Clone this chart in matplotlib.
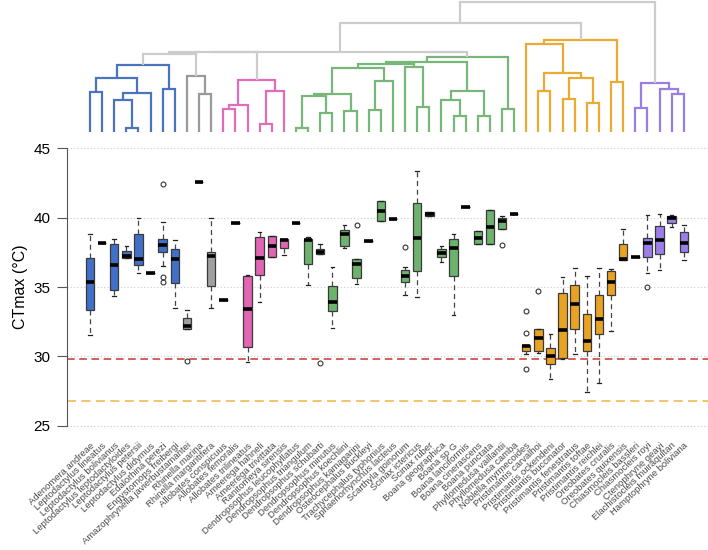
import numpy as np
import matplotlib.pyplot as plt

plt.rcParams['font.family'] = ['Liberation Sans', 'DejaVu Sans']

species = ['Adenomera andreae', 'Leptodactylus lineatus', 'Leptodactylus bolivianus',
           'Leptodactylus leptodactyloides', 'Leptodactylus petersii', 'Leptodactylus didymus',
           'Edalorhina perezi', 'Engystomops freibergi', 'Amazophrynella javierbustamantei',
           'Rhinella marina', 'Rhinella margaritifera', 'Allobates conspicuus',
           'Allobates femoralis', 'Allobates trilineatus', 'Ameerega hahneli',
           'Ameerega trivittata', 'Ranitomeya sirensis', 'Dendropsophus leucophyllatus',
           'Dendropsophus triangulum', 'Dendropsophus schubarti', 'Dendropsophus minutus',
           'Dendropsophus koechlini', 'Dendropsophus kamagarini', 'Osteocephalus buckleyi',
           'Trachycephalus typhonius', 'Sphaenorhynchus lacteus', 'Scarthyla goinorum',
           'Scinax ictericus', 'Scinax ruber', 'Boana geographica', 'Boana sp G',
           'Boana lanciformis', 'Boana cinerascens', 'Boana punctata',
           'Phyllomedusa vaillantii', 'Phyllomedusa camba', 'Noblella myrmecoides',
           'Pristimantis carvalhoi', 'Pristimantis ockendeni', 'Pristimantis buccinator',
           'Pristimantis fenestratus', 'Pristimantis toftae', 'Pristimantis reichlei',
           'Oreobates cruralis', 'Oreobates quixensis', 'Chiasmocleis bassleri',
           'Chiasmocleis royi', 'Ctenophryne geayi', 'Elachistocleis muiraquitan',
           'Hamptophryne boliviana']

med = [35.4, 38.2, 36.6, 37.25, 37.05, 36.0, 38.05, 37.0, 32.2, 42.6,
       37.25, 34.1, 39.6, 33.45, 37.1, 38.0, 38.4, 39.6, 38.4, 37.55,
       33.95, 38.8, 36.7, 38.35, 40.5, 39.9, 35.8, 38.55, 40.3, 37.45,
       37.8, 40.75, 38.55, 39.35, 39.75, 40.3, 30.75, 31.3, 30.0, 31.9,
       33.8, 31.1, 32.7, 35.35, 37.05, 37.2, 38.15, 38.4, 40.0, 38.15]
q1 = [33.35, 38.2, 34.8, 37.1, 36.6, 36.0, 37.5, 35.3, 32.0, 42.6,
      35.1, 34.1, 39.6, 30.7, 35.9, 37.2, 37.85, 39.6, 36.7, 37.4,
      33.25, 38.0, 35.65, 38.35, 39.75, 39.9, 35.4, 36.15, 40.15, 37.15,
      35.8, 40.75, 38.1, 38.1, 39.2, 40.3, 30.4, 30.4, 29.45, 29.9,
      32.0, 30.4, 31.6, 34.4, 36.95, 37.2, 37.2, 37.4, 39.65, 37.55]
q3 = [37.1, 38.2, 38.1, 37.6, 38.8, 36.0, 38.45, 37.75, 32.8, 42.6,
      37.5, 34.1, 39.6, 35.8, 38.6, 38.7, 38.45, 39.6, 38.45, 37.75,
      35.1, 39.1, 37.05, 38.35, 41.2, 39.9, 36.2, 41.1, 40.4, 37.75,
      38.5, 40.75, 39.05, 40.55, 39.95, 40.3, 30.85, 32.0, 30.6, 34.6,
      35.15, 33.05, 34.4, 36.15, 38.1, 37.2, 38.55, 39.4, 40.1, 38.95]
whislo = [31.55, 38.2, 34.35, 37.1, 36.0, 36.0, 36.5, 33.5, 32.0, 42.6,
          33.5, 34.1, 39.6, 29.6, 33.95, 37.2, 37.3, 39.6, 35.15, 37.4,
          32.05, 37.8, 35.2, 38.35, 39.75, 39.9, 34.4, 34.25, 40.15, 36.8,
          33.0, 40.75, 38.1, 38.1, 39.2, 40.3, 30.15, 30.25, 28.4, 29.8,
          30.15, 27.45, 28.1, 31.8, 36.95, 37.2, 36.05, 36.2, 39.35, 36.95]
whishi = [38.8, 38.2, 38.45, 38.0, 40.0, 36.0, 39.7, 38.4, 33.35, 42.6,
          40.0, 34.1, 39.6, 35.9, 39.0, 38.7, 38.45, 39.6, 38.6, 38.1,
          36.45, 39.5, 37.05, 38.35, 41.2, 39.9, 36.45, 43.4, 40.4, 38.0,
          38.85, 40.75, 39.05, 40.55, 40.1, 40.3, 30.85, 32.0, 31.6, 35.7,
          36.4, 35.8, 36.4, 36.3, 39.2, 37.2, 40.2, 40.3, 40.2, 39.5]
# outliers by species number (1-based)
outliers = {7: [42.45, 35.4, 35.7], 9: [29.7], 20: [29.5], 23: [39.5],
            27: [37.9], 35: [38.05], 37: [33.3, 31.7, 29.1], 38: [34.7],
            47: [35.0]}

cluster_sizes = [8, 3, 6, 19, 9, 5]
box_colors = ['#4170c8', '#a0a0a0', '#e066b4', '#6db36d', '#e8a324', '#9b7fe8']
tree_colors = ['#4a74bf', '#9a9a9a', '#df6db9', '#78b67a', '#e9ab33', '#9a7ee6']
link_gray = '#cccccc'

# dendrogram: (left, right, height), leaves are species numbers
blue = (((1, 2, 40.3), ((3, (4, 5, 4.3), 32), 6, 39.3), 54.3), (7, 8, 42.7), 67)
gray = (9, (10, 11, 37.7), 56)
pink = (((12, 13, 22.7), 14, 27), ((15, 16, 7.7), 17, 41.3), 51.7)
g1 = (((18, 19, 3.7), (20, 21, 19.3), 36), (22, 23, 21.3), 38)
g2 = ((24, 25, 22), 26, 51.3)
gA = (g1, g2, 64.3)
gB = (27, (28, 29, 24.7), 65.3)
gC = ((30, (31, 32, 16.3), 32), (33, 34, 16.3), 41)
green = (((gA, gB, 67.7), gC, 69.7), (35, 36, 23), 75.3)
orange = ((37, ((38, 39, 41.3), ((40, 41, 33), (42, 43, 28.7), 54.3), 58.7), 88.3),
          (44, 45, 50.3), 92)
purple = ((46, 47, 24.3), (48, (49, 50, 37.7), 42.7), 48.7)
tree = (((((blue, gray, 77.7), pink, 79.7), green, 80.3), orange, 108.7), purple, 130)

group = np.repeat(np.arange(len(cluster_sizes)), cluster_sizes)
n = len(species)
pos = np.arange(1, n + 1)

fig = plt.figure(figsize=(7.08, 5.5), dpi=100)
xl = (-0.9, 52.0)

# boxplots
ax = fig.add_axes([67 / 708, 0.2058, 641 / 708, 0.5444])
stats = []
for i in range(n):
    stats.append(dict(med=med[i], q1=q1[i], q3=q3[i], whislo=whislo[i],
                      whishi=whishi[i], fliers=outliers.get(i + 1, [])))

ax.yaxis.grid(True, linestyle=(0, (1, 2)), color='#cccccc', lw=0.8)
ax.set_axisbelow(True)
ax.axhline(29.8, color='#cc3333', ls=(0, (5, 3)), lw=1.1, zorder=1)
ax.axhline(26.8, color='#f0c060', ls=(0, (5, 3)), lw=1.3, zorder=1)

bp = ax.bxp(stats, positions=pos, widths=0.7, patch_artist=True, capwidths=0.3,
            boxprops=dict(linewidth=0.9, edgecolor='#3a3a3a'),
            medianprops=dict(color='black', linewidth=2.6, solid_capstyle='butt'),
            whiskerprops=dict(color='#444444', linewidth=0.9, linestyle=(0, (4, 3))),
            capprops=dict(color='#222222', linewidth=0.9),
            flierprops=dict(marker='o', markerfacecolor='none', markeredgecolor='#333333',
                            markersize=3.5, markeredgewidth=0.8))
for patch, g in zip(bp['boxes'], group):
    patch.set_facecolor(box_colors[g])

ax.set_xlim(*xl)
ax.set_ylim(24.2, 45.8)
ax.set_yticks([25, 30, 35, 40, 45])
ax.set_xticks(pos)
ax.set_xticklabels(species, rotation=43, ha='right', va='top', rotation_mode='anchor',
                   fontsize=6.8, color='#4a4a4a')
ax.tick_params(axis='x', length=0, pad=3)
ax.tick_params(axis='y', length=7, color='#555555', labelsize=11, pad=5)
for s in ['top', 'right', 'bottom']:
    ax.spines[s].set_visible(False)
ax.spines['left'].set_bounds(25, 45)
ax.spines['left'].set_color('#555555')
ax.set_ylabel('CTmax (°C)', fontsize=11.5, labelpad=4)

# dendrogram
axd = fig.add_axes([67 / 708, 1 - 132 / 550, 641 / 708, 132 / 550])


def draw(node):
    if isinstance(node, int):
        return node, 0.0, {group[node - 1]}
    left, right, h = node
    x1, h1, s1 = draw(left)
    x2, h2, s2 = draw(right)
    s = s1 | s2
    col = tree_colors[next(iter(s))] if len(s) == 1 else link_gray
    axd.plot([x1, x1, x2, x2], [h1, h, h, h2], color=col, lw=1.6,
             solid_capstyle='butt', solid_joinstyle='miter')
    return (x1 + x2) / 2, h, s


draw(tree)
axd.set_xlim(*xl)
axd.set_ylim(0, 132)
axd.axis('off')

fig.savefig('out.png', dpi=100)
